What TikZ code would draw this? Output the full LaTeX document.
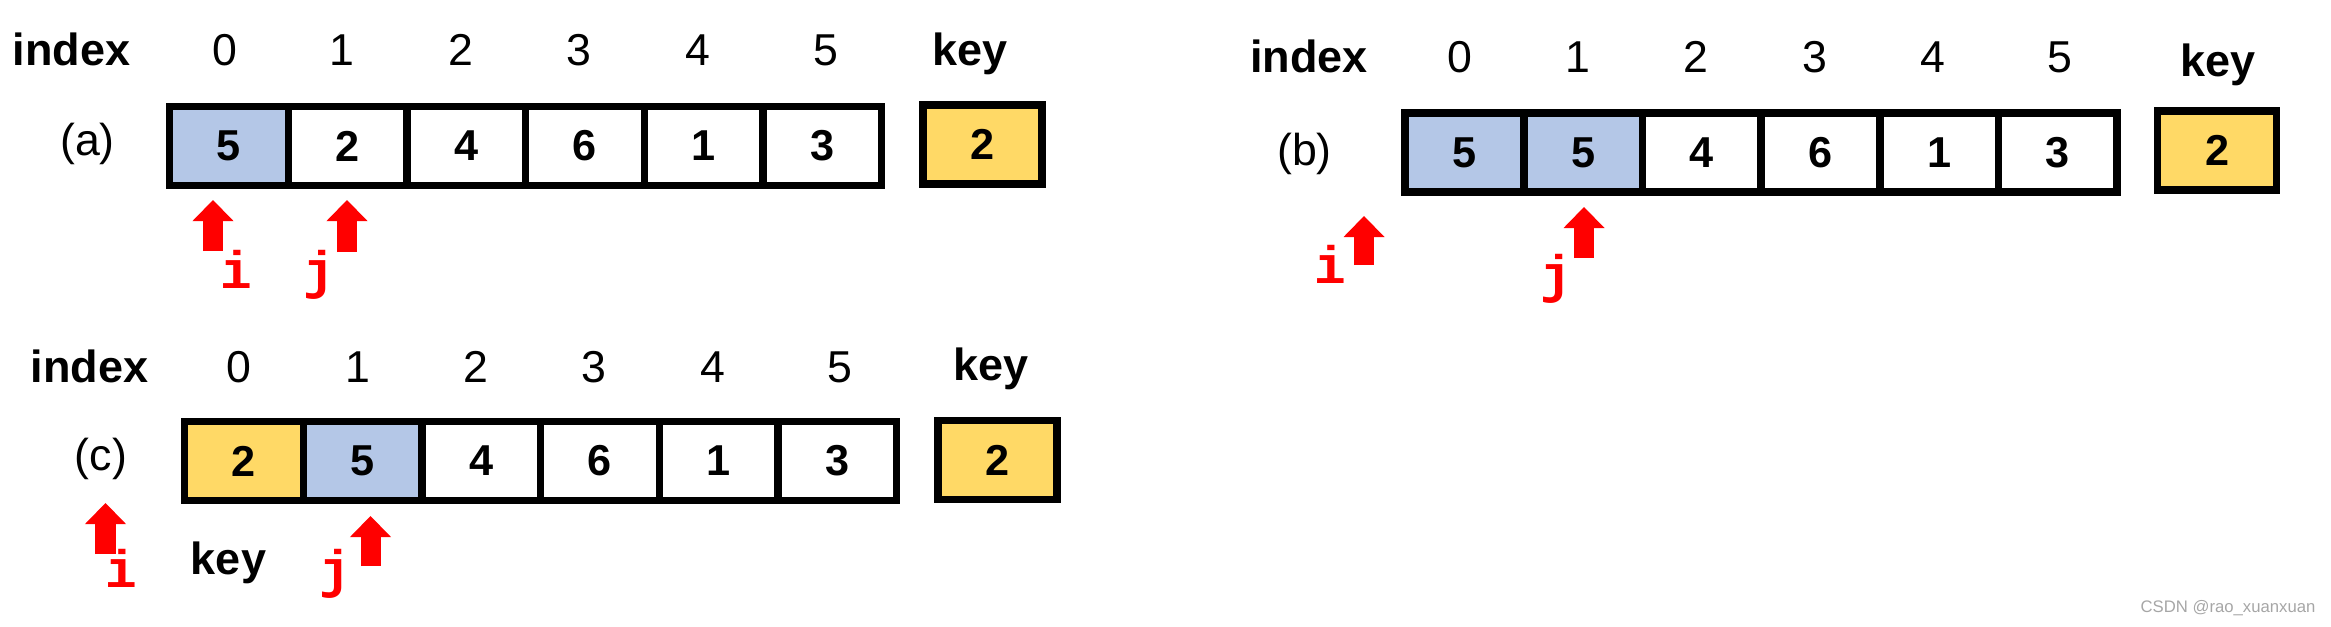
\documentclass[tikz,border=0pt]{standalone}
\usepackage{fontspec}
\setmainfont{Liberation Sans}
\newfontfamily\monofont{Liberation Mono}
\usepackage{tikz}
\usetikzlibrary{arrows.meta,positioning}
\definecolor{cellblue}{HTML}{B4C7E7}
\definecolor{keyyellow}{HTML}{FFD966}
\definecolor{markgray}{HTML}{A6A6A6}

\begin{document}
\begin{tikzpicture}[x=0.01cm,y=-0.01cm,node distance=1.186cm,
  cell node/.style={rectangle,draw,line width=2.13pt,fill=white,minimum width=1.186cm,
    minimum height=0.785cm,inner sep=0pt,outer sep=0pt,font=\fontsize{12.3}{14}\selectfont\bfseries},
  blue node/.style={cell node,fill=cellblue},
  key node/.style={cell node,fill=keyyellow},
  head node/.style={font=\fontsize{12.8}{14}\selectfont\bfseries,anchor=base,inner sep=0pt},
  idx node/.style={font=\fontsize{12.7}{14}\selectfont,anchor=base,inner sep=0pt},
  tag node/.style={font=\fontsize{12.7}{14}\selectfont,inner sep=0pt},
  ptr node/.style={font=\monofont\fontsize{15}{16}\selectfont\bfseries,text=red,anchor=base,inner sep=0pt},
  ptr line/.style={draw=red,line width=0.2cm,-{Triangle[length=0.21cm,width=0.41cm,line width=0pt]}}]
  \useasboundingbox (0,0) rectangle (2331,626);

  % (a)
  \node[head node] (idxa) at (71.5,65) {index};
  \node[idx node] (na0) at (224.5,65) {0};
  \node[idx node] (na1) at (342,65) {1};
  \node[idx node] (na2) at (461,65) {2};
  \node[idx node] (na3) at (579,65) {3};
  \node[idx node] (na4) at (698,65) {4};
  \node[idx node] (na5) at (826,65) {5};
  \node[head node] (keya) at (970,65) {key};
  \node[tag node] (taga) at (87.5,144) {(a)};
  \node[blue node] (a0) at (229,146) {5};
  \node[cell node] (a1) [right of=a0] {2};
  \node[cell node] (a2) [right of=a1] {4};
  \node[cell node] (a3) [right of=a2] {6};
  \node[cell node] (a4) [right of=a3] {1};
  \node[cell node] (a5) [right of=a4] {3};
  \node[key node] (ka) at (982.5,144.5) {2};
  \coordinate (ia1) at (213,251);
  \coordinate (ia2) at (213,200);
  \coordinate (ja1) at (347,252);
  \coordinate (ja2) at (347,200);
  \draw[ptr line] (ia1) -- (ia2);
  \draw[ptr line] (ja1) -- (ja2);
  \node[ptr node] (ia) at (236,288) {i};
  \node[ptr node] (ja) at (319,288) {j};

  % (b)
  \node[head node] (idxb) at (1309,72) {index};
  \node[idx node] (nb0) at (1460,72) {0};
  \node[idx node] (nb1) at (1578,72) {1};
  \node[idx node] (nb2) at (1696,72) {2};
  \node[idx node] (nb3) at (1815,72) {3};
  \node[idx node] (nb4) at (1933,72) {4};
  \node[idx node] (nb5) at (2060,72) {5};
  \node[head node] (keyb) at (2218,76) {key};
  \node[tag node] (tagb) at (1304.5,154) {(b)};
  \node[blue node] (b0) at (1464.5,152.5) {5};
  \node[blue node] (b1) [right of=b0] {5};
  \node[cell node] (b2) [right of=b1] {4};
  \node[cell node] (b3) [right of=b2] {6};
  \node[cell node] (b4) [right of=b3] {1};
  \node[cell node] (b5) [right of=b4] {3};
  \node[key node] (kb) at (2217,150.5) {2};
  \coordinate (ib1) at (1364,265);
  \coordinate (ib2) at (1364,216);
  \coordinate (jb1) at (1584,258);
  \coordinate (jb2) at (1584,207);
  \draw[ptr line] (ib1) -- (ib2);
  \draw[ptr line] (jb1) -- (jb2);
  \node[ptr node] (ib) at (1330.5,283) {i};
  \node[ptr node] (jb) at (1556,292) {j};

  % (c)
  \node[head node] (idxc) at (89.5,382) {index};
  \node[idx node] (nc0) at (238.5,382) {0};
  \node[idx node] (nc1) at (358,382) {1};
  \node[idx node] (nc2) at (475.5,382) {2};
  \node[idx node] (nc3) at (594,382) {3};
  \node[idx node] (nc4) at (712.5,382) {4};
  \node[idx node] (nc5) at (839.5,382) {5};
  \node[head node] (keyc) at (991,380) {key};
  \node[tag node] (tagc) at (101,458.5) {(c)};
  \node[key node] (c0) at (244,461) {2};
  \node[blue node] (c1) [right of=c0] {5};
  \node[cell node] (c2) [right of=c1] {4};
  \node[cell node] (c3) [right of=c2] {6};
  \node[cell node] (c4) [right of=c3] {1};
  \node[cell node] (c5) [right of=c4] {3};
  \node[key node] (kc) at (997.5,460) {2};
  \coordinate (ic1) at (105.5,554);
  \coordinate (ic2) at (105.5,503);
  \coordinate (jc1) at (370.5,566);
  \coordinate (jc2) at (370.5,516);
  \draw[ptr line] (ic1) -- (ic2);
  \draw[ptr line] (jc1) -- (jc2);
  \node[ptr node] (ic) at (121.5,587) {i};
  \node[ptr node] (jc) at (335,587) {j};
  \node[head node] (keyc2) at (228.5,574) {key};

  \node[font=\fontsize{4.75}{6}\selectfont,text=markgray] (mark) at (2228,608) {CSDN @rao\_xuanxuan};
\end{tikzpicture}
\end{document}
